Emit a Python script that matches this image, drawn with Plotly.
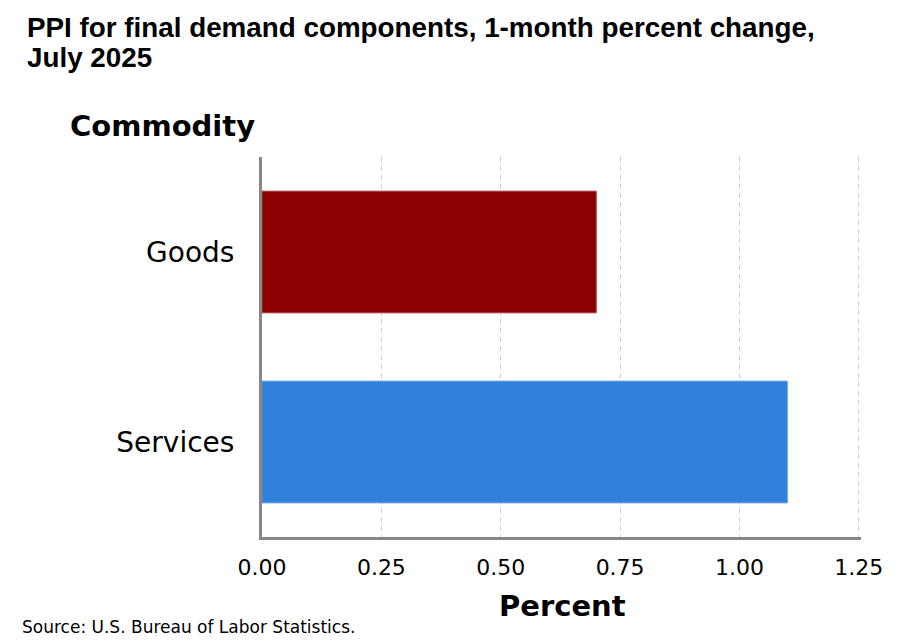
import plotly.graph_objects as go

categories = ["Goods", "Services"]
values = [0.7, 1.1]
bar_colors = ["#8b0000", "#3180d9"]
line_colors = ["#a33a3a", "#4b90e2"]
x_ticks = [0, 0.25, 0.5, 0.75, 1.0, 1.25]
x_tick_labels = ["0.00", "0.25", "0.50", "0.75", "1.00", "1.25"]

title_line1 = "PPI for final demand components, 1-month percent change,"
title_line2 = "July 2025"
source_text = "Source: U.S. Bureau of Labor Statistics."

# page body has an 8px margin; compensate so the figure fills the 922x644 window
OFF = 8
W, H = 922 - OFF, 644 - OFF
L, R, T, B = 262 - OFF, 61, 157 - OFF, 107
pw, ph = W - L - R, H - T - B

def px_x(px):
    return (px - OFF - L) / pw

def px_y(py):
    return (H - B - (py - OFF)) / ph

fig = go.Figure(
    go.Bar(
        x=values,
        y=categories,
        orientation="h",
        marker=dict(color=bar_colors, line=dict(color=line_colors, width=1)),
        hoverinfo="skip",
    )
)

fig.update_layout(
    width=W,
    height=H,
    margin=dict(l=L, r=R, t=T, b=B),
    paper_bgcolor="white",
    plot_bgcolor="white",
    bargap=0.36,
    showlegend=False,
    font=dict(family="DejaVu Sans", color="#000000"),
    xaxis=dict(
        range=[0, 1.2545],
        tickvals=x_ticks,
        ticktext=x_tick_labels,
        tickfont=dict(family="DejaVu Sans", size=22, color="#000"),
        showgrid=True,
        gridcolor="#cfcfcf",
        gridwidth=1,
        griddash="5px,4px",
        zeroline=False,
        showline=True,
        linecolor="#888888",
        linewidth=3,
        ticks="",
        ticklabelstandoff=9,
    ),
    yaxis=dict(
        range=[1.5, -0.5],
        tickfont=dict(family="DejaVu Sans", size=28, color="#000"),
        showgrid=False,
        zeroline=False,
        showline=True,
        linecolor="#888888",
        linewidth=3,
        ticks="",
        ticklabelstandoff=19,
    ),
    annotations=[
        dict(
            text="<b>" + title_line1 + "</b>",
            xref="paper", yref="paper",
            x=px_x(25), y=px_y(28),
            xanchor="left", yanchor="middle", align="left",
            showarrow=False,
            font=dict(family="Liberation Sans", size=27.8, color="#000"),
        ),
        dict(
            text="<b>" + title_line2 + "</b>",
            xref="paper", yref="paper",
            x=px_x(25), y=px_y(58),
            xanchor="left", yanchor="middle", align="left",
            showarrow=False,
            font=dict(family="Liberation Sans", size=27.8, color="#000"),
        ),
        dict(
            text="<b>Commodity</b>",
            xref="paper", yref="paper",
            x=px_x(162), y=px_y(126),
            xanchor="center", yanchor="middle",
            showarrow=False,
            font=dict(family="DejaVu Sans", size=29, color="#000"),
        ),
        dict(
            text="<b>Percent</b>",
            xref="paper", yref="paper",
            x=px_x(562), y=px_y(606),
            xanchor="center", yanchor="middle",
            showarrow=False,
            font=dict(family="DejaVu Sans", size=29, color="#000"),
        ),
        dict(
            text=source_text,
            xref="paper", yref="paper",
            x=px_x(20), y=px_y(627),
            xanchor="left", yanchor="middle",
            showarrow=False,
            font=dict(family="DejaVu Sans", size=17, color="#000"),
        ),
    ],
)

fig.write_html("out.html")
